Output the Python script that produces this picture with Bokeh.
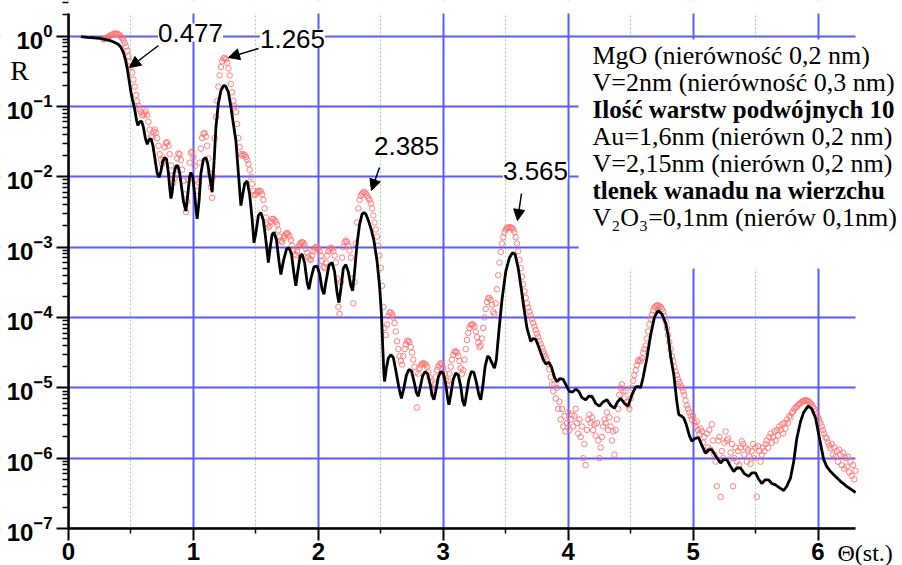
import numpy as np
from bokeh.plotting import figure
from bokeh.models import Range1d, FixedTicker, Label, Arrow, NormalHead, BoxAnnotation
from bokeh.embed import file_html
from bokeh.resources import INLINE

# ---------------- data ----------------
# x axis ticks (Theta, degrees) and y decades
x_ticks = [0, 1, 2, 3, 4, 5, 6]
x_minor = [0.5, 1.5, 2.5, 3.5, 4.5, 5.5]
y_ticks = [1e-7, 1e-6, 1e-5, 1e-4, 1e-3, 1e-2, 1e-1, 1e0]

# simulated curve (black line): theta and log10(R)
sim_theta = [
    0.10, 0.15, 0.20, 0.25, 0.30, 0.34, 0.37, 0.40, 0.42, 0.44,
    0.455, 0.47, 0.485, 0.50, 0.515, 0.53, 0.545, 0.555, 0.57, 0.585,
    0.60, 0.615, 0.63, 0.645, 0.66, 0.675, 0.695, 0.71, 0.725, 0.74,
    0.755, 0.77, 0.785, 0.80, 0.81, 0.82, 0.83, 0.845, 0.86, 0.875,
    0.89, 0.905, 0.92, 0.94, 0.955, 0.97, 0.98, 0.995, 1.01, 1.02,
    1.03, 1.045, 1.06, 1.08, 1.10, 1.115, 1.13, 1.15, 1.165, 1.18,
    1.20, 1.22, 1.24, 1.25, 1.26, 1.28, 1.30, 1.32, 1.34, 1.36,
    1.38, 1.395, 1.41, 1.43, 1.45, 1.47, 1.485, 1.50, 1.52, 1.54,
    1.56, 1.58, 1.60, 1.615, 1.63, 1.645, 1.665, 1.685, 1.70, 1.72,
    1.745, 1.765, 1.785, 1.805, 1.82, 1.835, 1.855, 1.87, 1.89, 1.91,
    1.925, 1.94, 1.965, 1.99, 2.01, 2.03, 2.045, 2.06, 2.085, 2.11,
    2.13, 2.15, 2.165, 2.18, 2.20, 2.22, 2.24, 2.26, 2.275, 2.29,
    2.31, 2.33, 2.35, 2.365, 2.38, 2.40, 2.425, 2.445, 2.47, 2.49,
    2.505, 2.515, 2.525, 2.53, 2.545, 2.56, 2.58, 2.60, 2.62, 2.645,
    2.665, 2.685, 2.705, 2.725, 2.745, 2.765, 2.785, 2.80, 2.815, 2.835,
    2.855, 2.875, 2.895, 2.91, 2.925, 2.94, 2.96, 2.98, 3.00, 3.02,
    3.035, 3.045, 3.06, 3.08, 3.10, 3.12, 3.14, 3.155, 3.17, 3.185,
    3.205, 3.225, 3.245, 3.265, 3.285, 3.30, 3.315, 3.335, 3.355, 3.37,
    3.39, 3.41, 3.425, 3.445, 3.47, 3.50, 3.53, 3.555, 3.575, 3.60,
    3.625, 3.645, 3.67, 3.70, 3.72, 3.74, 3.76, 3.78, 3.80, 3.82,
    3.845, 3.865, 3.89, 3.91, 3.935, 3.96, 3.985, 4.01, 4.035, 4.06,
    4.085, 4.11, 4.14, 4.165, 4.19, 4.22, 4.25, 4.28, 4.31, 4.34,
    4.37, 4.395, 4.42, 4.45, 4.48, 4.51, 4.54, 4.56, 4.58, 4.60,
    4.63, 4.66, 4.69, 4.72, 4.75, 4.78, 4.80, 4.82, 4.845, 4.87,
    4.885, 4.905, 4.925, 4.945, 4.97, 4.99, 5.015, 5.045, 5.07, 5.10,
    5.125, 5.15, 5.185, 5.22, 5.245, 5.27, 5.30, 5.325, 5.35, 5.38,
    5.41, 5.445, 5.47, 5.50, 5.525, 5.55, 5.575, 5.605, 5.63, 5.66,
    5.69, 5.725, 5.75, 5.78, 5.805, 5.83, 5.86, 5.885, 5.92, 5.95,
    5.98, 6.01, 6.045, 6.07, 6.10, 6.14, 6.18, 6.23, 6.285, 6.30,
]
sim_logR = [
    -0.01, -0.02, -0.025, -0.035, -0.05, -0.07, -0.09, -0.12, -0.16, -0.24,
    -0.33, -0.46, -0.63, -0.80, -0.93, -1.04, -1.20, -1.27, -1.22, -1.21,
    -1.30, -1.45, -1.54, -1.47, -1.46, -1.55, -1.78, -1.95, -2.01, -1.92,
    -1.78, -1.73, -1.75, -1.95, -2.15, -2.31, -2.22, -1.95, -1.85, -1.84,
    -1.95, -2.15, -2.35, -2.49, -2.25, -2.00, -1.94, -2.00, -2.25, -2.45,
    -2.60, -2.35, -1.95, -1.75, -1.73, -1.82, -2.00, -2.22, -1.80, -1.30,
    -0.95, -0.78, -0.71, -0.705, -0.72, -0.80, -1.01, -1.25, -1.49, -1.95,
    -2.41, -2.25, -2.10, -2.06, -2.25, -2.60, -2.94, -2.80, -2.55, -2.51,
    -2.62, -2.90, -3.22, -3.00, -2.82, -2.79, -2.90, -3.20, -3.39, -3.20,
    -3.03, -3.01, -3.10, -3.38, -3.55, -3.35, -3.12, -3.10, -3.22, -3.50,
    -3.60, -3.45, -3.28, -3.27, -3.38, -3.60, -3.67, -3.50, -3.26, -3.22,
    -3.35, -3.65, -3.79, -3.60, -3.30, -3.25, -3.35, -3.55, -3.62, -3.35,
    -2.95, -2.68, -2.53, -2.51, -2.53, -2.62, -2.76, -2.91, -3.20, -3.55,
    -3.95, -4.40, -4.80, -4.91, -4.72, -4.58, -4.53, -4.57, -4.75, -5.00,
    -5.15, -5.00, -4.82, -4.74, -4.76, -4.90, -5.07, -5.12, -5.00, -4.83,
    -4.77, -4.80, -4.95, -5.10, -5.17, -5.05, -4.85, -4.77, -4.79, -4.95,
    -5.15, -5.24, -5.10, -4.88, -4.79, -4.82, -4.98, -5.18, -5.26, -5.10,
    -4.88, -4.77, -4.78, -4.92, -5.10, -5.17, -5.00, -4.70, -4.55, -4.57,
    -4.65, -4.72, -4.60, -4.20, -3.75, -3.35, -3.15, -3.08, -3.10, -3.30,
    -3.60, -3.86, -4.15, -4.34, -4.30, -4.31, -4.40, -4.50, -4.60, -4.66,
    -4.64, -4.70, -4.85, -4.91, -4.87, -4.88, -4.97, -5.05, -5.06, -5.02,
    -5.05, -5.14, -5.17, -5.12, -5.12, -5.22, -5.26, -5.20, -5.17, -5.25,
    -5.29, -5.20, -5.15, -5.22, -5.26, -5.10, -4.99, -4.98, -5.00, -4.85,
    -4.58, -4.25, -4.00, -3.90, -3.95, -4.08, -4.25, -4.55, -4.81, -5.20,
    -5.38, -5.40, -5.43, -5.52, -5.68, -5.76, -5.72, -5.71, -5.82, -5.93,
    -5.88, -5.88, -5.98, -6.07, -6.02, -6.02, -6.12, -6.19, -6.14, -6.14,
    -6.22, -6.26, -6.21, -6.21, -6.30, -6.36, -6.31, -6.31, -6.36, -6.38,
    -6.42, -6.46, -6.40, -6.28, -6.05, -5.72, -5.48, -5.35, -5.26, -5.30,
    -5.43, -5.70, -6.02, -6.12, -6.19, -6.26, -6.33, -6.40, -6.47, -6.49,
]

# measured data (red circles): log10(R), scan from 0.28 deg in 0.01 deg steps
exp_start, exp_step = 0.28, 0.01
exp_logR = [
    -0.05, -0.04,                                                        # 0.28-0.29
    -0.03, -0.02, -0.01, 0.00, 0.01, 0.02, 0.03, 0.03, 0.035, 0.03,      # 0.30
    0.02, 0.01, -0.01, -0.03, -0.06, -0.10, -0.15, -0.21, -0.29, -0.36,  # 0.40
    -0.44, -0.52, -0.62, -0.72, -0.84, -0.93, -0.99, -1.04, -1.08, -1.12,  # 0.50
    -1.13, -1.10, -1.07, -1.12, -1.22, -1.33, -1.43, -1.44, -1.36, -1.33,  # 0.60
    -1.37, -1.45, -1.56, -1.68, -1.76, -1.82, -1.74, -1.58, -1.52, -1.51,  # 0.70
    -1.56, -1.68, -1.84, -1.98, -2.08, -2.02, -1.90, -1.74, -1.67, -1.68,  # 0.80
    -1.76, -1.90, -2.06, -2.25, -2.50, -2.35, -2.05, -1.80, -1.66, -1.64,  # 0.90
    -1.72, -1.85, -2.05, -2.20, -2.08, -1.80, -1.60, -1.45, -1.39, -1.38,  # 1.00
    -1.43, -1.56, -1.74, -1.95, -2.15, -2.30, -2.00, -1.45, -1.15, -0.92,  # 1.10
    -0.72, -0.56, -0.44, -0.36, -0.32, -0.31, -0.33, -0.38, -0.46, -0.56,  # 1.20
    -0.68, -0.80, -0.92, -1.00, -1.08, -1.25, -1.45, -1.58, -1.68, -1.70,  # 1.30
    -1.68, -1.69, -1.72, -1.76, -1.82, -1.90, -2.00, -2.10, -2.20, -2.26,  # 1.40
    -2.25, -2.22, -2.20, -2.20, -2.21, -2.25, -2.33, -2.45, -2.58, -2.68,  # 1.50
    -2.72, -2.70, -2.64, -2.60, -2.60, -2.62, -2.64, -2.68, -2.76, -2.85,  # 1.60
    -2.91, -2.93, -2.88, -2.84, -2.81, -2.80, -2.82, -2.85, -2.90, -2.98,  # 1.70
    -3.06, -3.10, -3.12, -3.06, -3.00, -2.96, -2.94, -2.93, -2.94, -2.97,  # 1.80
    -3.02, -3.08, -3.14, -3.17, -3.18, -3.12, -3.06, -3.02, -3.00, -3.00,  # 1.90
    -3.02, -3.06, -3.12, -3.20, -3.28, -3.30, -3.22, -3.12, -3.06, -3.03,  # 2.00
    -3.01, -3.02, -3.06, -3.12, -3.22, -3.45, -3.85, -3.95, -3.50, -3.15,  # 2.10
    -3.00, -2.93, -2.91, -2.93, -2.98, -3.05, -3.15, -3.45, -3.80, -3.50,  # 2.20
    -2.95, -2.65, -2.45, -2.33, -2.27, -2.24, -2.22, -2.22, -2.24, -2.27,  # 2.30
    -2.30, -2.33, -2.38, -2.45, -2.55, -2.65, -2.75, -2.85, -2.98, -3.12,  # 2.40
    -3.30, -3.55, -3.85, -4.15, -4.25, -4.10, -3.98, -3.93, -3.93, -3.96,  # 2.50
    -4.00, -4.08, -4.20, -4.34, -4.45, -4.55, -4.62, -4.67, -4.55, -4.45,  # 2.60
    -4.38, -4.34, -4.33, -4.35, -4.42, -4.50, -4.60, -4.70, -4.78, -5.28,  # 2.70
    -4.80, -4.72, -4.68, -4.66, -4.65, -4.66, -4.67, -4.70, -4.78, -4.85,  # 2.80
    -4.92, -5.00, -5.10, -4.95, -4.85, -4.75, -4.70, -4.67, -4.65, -4.67,  # 2.90
    -4.72, -4.80, -4.88, -4.95, -4.90, -4.80, -4.70, -4.60, -4.53, -4.49,  # 3.00
    -4.48, -4.50, -4.55, -4.62, -4.72, -4.80, -4.75, -4.60, -4.45, -4.32,  # 3.10
    -4.22, -4.15, -4.11, -4.10, -4.10, -4.13, -4.20, -4.28, -4.36, -4.42,  # 3.20
    -4.40, -4.30, -4.15, -4.00, -3.88, -3.78, -3.73, -3.72, -3.75, -3.82,  # 3.30
    -3.92, -3.95, -3.80, -3.60, -3.40, -3.22, -3.07, -2.95, -2.86, -2.79,  # 3.40
    -2.75, -2.73, -2.72, -2.72, -2.72, -2.73, -2.75, -2.79, -2.86, -2.95,  # 3.50
    -3.06, -3.18, -3.30, -3.42, -3.53, -3.63, -3.72, -3.80, -3.86, -3.92,  # 3.60
    -3.97, -4.02, -4.08, -4.13, -4.18, -4.23, -4.28, -4.33, -4.38, -4.43,  # 3.70
    -4.48, -4.52, -4.56, -4.60, -4.66, -4.74, -4.85, -4.95, -5.05, -4.95,  # 3.80
    -5.15, -5.00, -5.30, -5.20, -5.45, -5.30, -5.55, -5.40, -5.62, -5.50,  # 3.90
    -5.35, -5.60, -5.45, -5.38, -5.55, -5.40, -5.30, -5.50, -5.65, -5.45,  # 4.00
    -5.70, -5.55, -6.00, -5.80, -6.10, -5.60, -5.45, -5.38, -5.50, -5.42,  # 4.10
    -5.60, -5.52, -5.68, -5.50, -5.75, -6.00, -5.85, -5.70, -5.55, -5.45,  # 4.20
    -5.50, -5.35, -5.60, -5.42, -5.55, -5.75, -5.62, -5.95, -5.60, -5.45,  # 4.30
    -5.30, -5.10, -5.00, -4.95, -5.05, -5.15, -5.05, -5.20, -5.25, -5.30,  # 4.40
    -5.15, -5.00, -4.90, -4.82, -4.75, -4.68, -4.62, -4.60, -4.62, -4.58,  # 4.50
    -4.50, -4.45, -4.40, -4.30, -4.20, -4.10, -4.02, -3.96, -3.90, -3.86,  # 4.60
    -3.84, -3.83, -3.83, -3.84, -3.85, -3.88, -3.92, -3.98, -4.06, -4.15,  # 4.70
    -4.25, -4.35, -4.45, -4.55, -4.62, -4.70, -4.77, -4.82, -4.88, -4.92,  # 4.80
    -4.97, -5.00, -5.05, -5.10, -5.18, -5.25, -5.30, -5.35, -5.40, -5.45,  # 4.90
    -5.40, -5.50, -5.55, -5.48, -5.60, -5.66, -5.58, -5.62, -5.78, -5.70,  # 5.00
    -5.90, -5.65, -5.85, -5.60, -5.88, -5.52, -5.75, -5.95, -6.05, -6.40,  # 5.10
    -5.75, -5.70, -6.55, -5.90, -6.00, -5.78, -5.62, -5.75, -5.72, -6.02,  # 5.20
    -5.92, -5.80, -6.40, -6.00, -5.85, -6.05, -5.90, -6.10, -5.85, -5.76,  # 5.30
    -5.80, -5.95, -5.85, -6.05, -5.88, -5.98, -6.08, -5.90, -5.80, -6.00,  # 5.40
    -5.85, -6.55, -5.83, -5.90, -6.05, -5.95, -5.85, -5.90, -5.80, -5.75,  # 5.50
    -5.85, -5.70, -5.65, -5.78, -5.70, -5.62, -5.75, -5.60, -5.68, -5.55,  # 5.60
    -5.60, -5.52, -5.65, -5.50, -5.58, -5.45, -5.50, -5.40, -5.42, -5.36,  # 5.70
    -5.34, -5.30, -5.28, -5.27, -5.25, -5.23, -5.22, -5.20, -5.19, -5.18,  # 5.80
    -5.18, -5.18, -5.19, -5.20, -5.22, -5.24, -5.27, -5.30, -5.34, -5.38,  # 5.90
    -5.42, -5.46, -5.50, -5.55, -5.60, -5.65, -5.70, -5.72, -5.78, -5.82,  # 6.00
    -5.86, -5.80, -5.95, -5.85, -5.98, -5.90, -6.05, -5.88, -5.95, -6.10,  # 6.10
    -5.92, -6.15, -6.00, -6.12, -5.98, -6.20, -6.05, -6.25, -6.10, -6.30,  # 6.20
    -6.18,                                                               # 6.30
]

peak_labels = ["0.477", "1.265", "2.385", "3.565"]
info_lines = [
    "MgO (nierówność 0,2 nm)",
    "V=2nm (nierówność 0,3 nm)",
    "Ilość warstw podwójnych 10",
    "Au=1,6nm (nierówn 0,2 nm)",
    "V=2,15nm (nierówn 0,2 nm)",
    "tlenek wanadu na wierzchu",
    "V\u2082O\u2083=0,1nm (nierów 0,1nm)",
]
info_bold = [False, False, True, False, False, True, False]

# ---------------- layout ----------------
W, H = 902, 565
FL, FR, FT, FB = 68, 855, 13, 528          # pixel box of the data area
XMIN, XMAX = 0.0, 6.3
LOG_TOP, LOG_BOT = 0.32, -7.0
PX_PER_X = (FR - FL) / (XMAX - XMIN)
PX_PER_DEC = (FB - FT) / (LOG_TOP - LOG_BOT)

# the plotting frame covers the whole canvas; axes are pinned at the data-area edges
x_lo = XMIN - FL / PX_PER_X
x_hi = XMAX + (W - FR) / PX_PER_X
y_lo = 10 ** (LOG_BOT - (H - FB) / PX_PER_DEC)
y_hi = 10 ** (LOG_TOP + FT / PX_PER_DEC)


def dx(px):
    return XMIN + (px - FL) / PX_PER_X


def dy(py):
    return 10 ** (LOG_TOP - (py - FT) / PX_PER_DEC)


exp_theta = np.round(exp_start + exp_step * np.arange(len(exp_logR)), 3)
exp_R = 10.0 ** np.array(exp_logR)
sim_R = 10.0 ** np.array(sim_logR)

p = figure(width=W, height=H, x_range=Range1d(x_lo, x_hi),
           y_range=Range1d(y_lo, y_hi), y_axis_type="log",
           output_backend="svg", toolbar_location=None,
           min_border_left=0, min_border_right=0, min_border_top=0, min_border_bottom=0)
p.min_border = 0
p.outline_line_color = None
p.background_fill_color = "white"
p.border_fill_color = "white"

# axes
p.xaxis.ticker = FixedTicker(ticks=x_ticks, minor_ticks=x_minor)
y_minor = [m * 10.0 ** e for e in range(-7, 1) for m in range(2, 10)]
p.yaxis.ticker = FixedTicker(ticks=y_ticks, minor_ticks=y_minor)
p.xaxis.fixed_location = 10 ** LOG_BOT
p.yaxis.fixed_location = XMIN
p.xaxis.bounds = (XMIN, XMAX)
p.yaxis.bounds = (10 ** LOG_BOT, 10 ** LOG_TOP)
for ax in (p.xaxis, p.yaxis):
    ax.axis_line_width = 2.5
    ax.axis_line_color = "black"
    ax.major_tick_line_width = 2
    ax.major_tick_line_color = "black"
    ax.minor_tick_line_width = 1.5
    ax.minor_tick_line_color = "black"
    ax.major_tick_in = 0
    ax.minor_tick_in = 0
    ax.major_tick_out = 12
    ax.major_label_text_font = "Liberation Sans"
    ax.major_label_text_font_style = "bold"
    ax.major_label_text_font_size = "24px"
    ax.major_label_text_color = "black"
p.xaxis.minor_tick_out = 5
p.yaxis.minor_tick_out = 6
p.xaxis.major_label_standoff = 2
p.yaxis.major_label_standoff = 4

# grids
p.xgrid.grid_line_color = "#5a5aff"
p.xgrid.grid_line_width = 2
p.xgrid.minor_grid_line_color = "#8fe08f"
p.xgrid.minor_grid_line_dash = "2 2"
p.xgrid.minor_grid_line_width = 1
p.ygrid.grid_line_color = "#5a5aff"
p.ygrid.grid_line_width = 2

# white masks (drawn just above the grid) outside the data area and behind the text block
masks = [
    (x_lo, XMIN, y_lo, y_hi),                 # left margin
    (XMAX, x_hi, y_lo, y_hi),                 # right margin
    (x_lo, x_hi, y_lo, 10 ** LOG_BOT),        # bottom margin
    (x_lo, x_hi, 10 ** LOG_TOP, y_hi),        # top margin
    (dx(578), x_hi, dy(268), dy(39)),         # text block
]
for l, r, b, t in masks:
    p.add_layout(BoxAnnotation(left=l, right=r, bottom=b, top=t, level="underlay",
                               fill_color="white", fill_alpha=1.0, line_color=None,
                               line_alpha=0))

# data
p.scatter(exp_theta, exp_R, marker="circle", size=5.5, fill_color=None,
          line_color="#ff7070", line_width=0.9)
p.line(sim_theta, sim_R, line_color="black", line_width=2.8)

# description text
line_y = [55, 82, 109, 136, 163, 190, 217]
for txt, bold, yy in zip(info_lines, info_bold, line_y):
    p.add_layout(Label(x=dx(592), y=dy(yy), text=txt, text_font="Liberation Serif",
                       text_font_size="25px" if bold else "26px",
                       text_font_style="bold" if bold else "normal",
                       text_align="left", text_baseline="middle", text_color="black"))

# peak labels with arrows
label_pos = [(190, 32), (292, 38), (406, 145), (535, 170)]
arrows = [((158, 45), (129, 67)), ((258, 48), (228, 57)),
          ((379, 167), (371, 190)), ((521, 193), (517, 220))]
for txt, (lx, ly) in zip(peak_labels, label_pos):
    p.add_layout(Label(x=dx(lx), y=dy(ly), text=txt, text_font="Liberation Sans",
                       text_font_size="26px", text_align="center", text_baseline="middle",
                       background_fill_color="white", background_fill_alpha=1.0,
                       text_color="black"))
for (sx0, sy0), (sx1, sy1) in arrows:
    p.add_layout(Arrow(end=NormalHead(size=11, fill_color="black", line_color="black"),
                       x_start=dx(sx0), y_start=dy(sy0), x_end=dx(sx1), y_end=dy(sy1),
                       line_color="black", line_width=1.5))

# axis titles
p.add_layout(Label(x=dx(19), y=dy(70), text="R", text_font="Liberation Serif",
                   text_font_size="28px", text_align="center", text_baseline="middle",
                   text_color="black"))
p.add_layout(Label(x=dx(837), y=dy(552), text="\u0398(st.)", text_font="Liberation Serif",
                   text_font_size="24px", text_align="left", text_baseline="middle",
                   text_color="black"))

open("out.html", "w").write(file_html(p, INLINE))
